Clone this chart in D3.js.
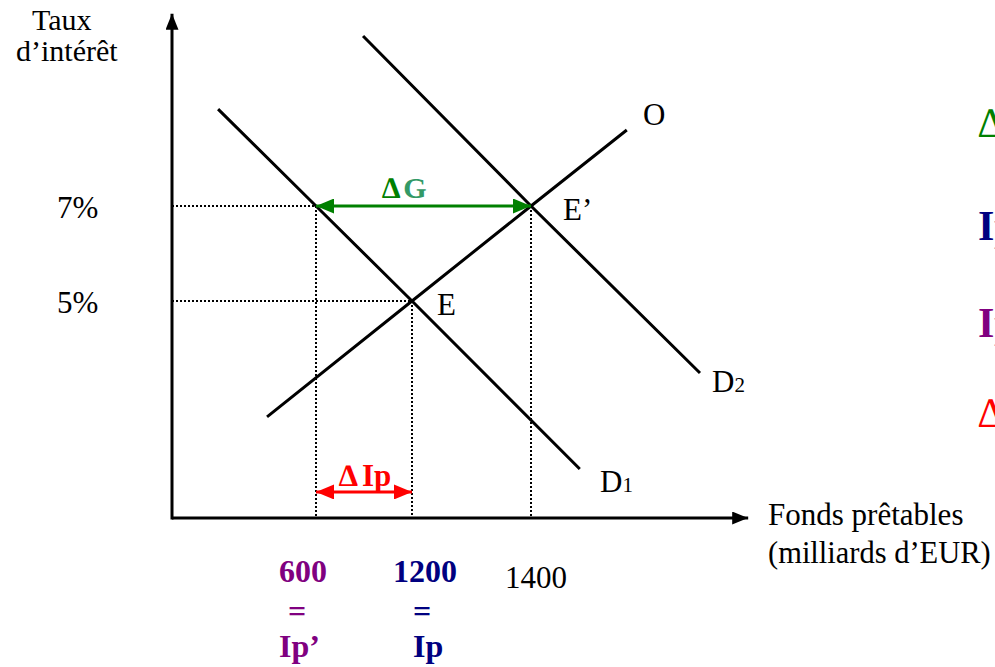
<!DOCTYPE html>
<html>
<head>
<meta charset="utf-8">
<script src="https://cdn.jsdelivr.net/npm/d3@7"></script>
<style>
	body { margin: 0; background: #fff; }
	svg { display: block; font-family: "Liberation Serif", "Times New Roman", serif; }
</style>
</head>
<body>
<div id="chart"></div>
<script>
// Loanable funds market (schematic values)
const rateTicks = [7, 5]
const rateLabels = ["7%", "5%"]
const axisX = [0, 1765] // x axis extent (milliards d'EUR, schematic)
const axisY = [0, 11.05] // y axis extent (%)

// curves: [quantity, rate]
const demand1 = [[192, 9.04], [600, 7], [1200, 5], [1482, 1.13]]
const demand2 = [[894, 10.58], [1400, 7], [1684, 3.34]]
const offer = [[396, 2.33], [1200, 5], [1400, 7], [1561, 8.6]]

// equilibria
const eqE = [1200, 5]
const eqE2 = [1400, 7]
const eqIp2 = [600, 7] // point on D1 at 7%

const deltaIpRate = 0.6 // height of the red arrow

const width = 995
const height = 667

const svg = d3
	.select("#chart")
	.append("svg")
	.attr("width", width)
	.attr("height", height)

// Schematic, non-proportional axis as in the original drawing
const x = d3.scaleLinear().domain([0, 600, 1200, 1400]).range([172, 316, 412, 531])
const y = d3.scaleLinear().domain([0, 5, 7]).range([518, 301, 206])

// Arrow markers
const defs = svg.append("defs")
const addMarker = (id, color, w, h) => {
	defs.append("marker")
		.attr("id", id)
		.attr("viewBox", `0 0 ${w} ${h}`)
		.attr("refX", w)
		.attr("refY", h / 2)
		.attr("markerWidth", w)
		.attr("markerHeight", h)
		.attr("markerUnits", "userSpaceOnUse")
		.attr("orient", "auto-start-reverse")
		.append("path")
		.attr("d", `M0,0 L${w},${h / 2} L0,${h} Z`)
		.attr("fill", color)
}
addMarker("arrow-black", "#000", 16, 13)
addMarker("arrow-green", "#008000", 18, 15)
addMarker("arrow-red", "#ff0000", 18, 15)

// Axes
svg.append("line")
	.attr("x1", x(axisX[0]))
	.attr("y1", y(axisY[0]))
	.attr("x2", x(axisX[1]))
	.attr("y2", y(axisY[0]))
	.attr("stroke", "#000")
	.attr("stroke-width", 3)
	.attr("marker-end", "url(#arrow-black)")

svg.append("line")
	.attr("x1", x(axisX[0]))
	.attr("y1", y(axisY[0]) + 1.5)
	.attr("x2", x(axisX[0]))
	.attr("y2", y(axisY[1]))
	.attr("stroke", "#000")
	.attr("stroke-width", 3)
	.attr("marker-end", "url(#arrow-black)")

// Dotted guides
const dotted = (x1, y1, x2, y2) =>
	svg.append("line")
		.attr("x1", x1).attr("y1", y1)
		.attr("x2", x2).attr("y2", y2)
		.attr("stroke", "#000")
		.attr("stroke-width", 2)
		.attr("stroke-dasharray", "2,2")

dotted(x(0), y(eqE2[1]), x(eqIp2[0]), y(eqE2[1]))
dotted(x(0), y(eqE[1]), x(eqE[0]), y(eqE[1]))
dotted(x(eqIp2[0]), y(eqIp2[1]), x(eqIp2[0]), y(0))
dotted(x(eqE[0]), y(eqE[1]), x(eqE[0]), y(0))
dotted(x(eqE2[0]), y(eqE2[1]), x(eqE2[0]), y(0))

// Curves
const line = d3
	.line()
	.x((d) => x(d[0]))
	.y((d) => y(d[1]))

;[demand1, demand2, offer].forEach((d) => {
	svg.append("path")
		.datum(d)
		.attr("fill", "none")
		.attr("stroke", "#000")
		.attr("stroke-width", 3)
		.attr("d", line)
})

// Delta G arrow
svg.append("line")
	.attr("x1", x(eqIp2[0]))
	.attr("x2", x(eqE2[0]))
	.attr("y1", y(7))
	.attr("y2", y(7))
	.attr("stroke", "#008000")
	.attr("stroke-width", 3)
	.attr("marker-start", "url(#arrow-green)")
	.attr("marker-end", "url(#arrow-green)")

const dg = svg.append("text")
	.attr("x", 382)
	.attr("y", 198)
	.style("font-size", "30px")
	.style("font-weight", "bold")
dg.append("tspan").attr("fill", "#008000").text("∆")
dg.append("tspan").attr("fill", "#339966").attr("dx", 3).text("G")

// Delta Ip arrow
svg.append("line")
	.attr("x1", x(eqIp2[0]))
	.attr("x2", x(eqE[0]))
	.attr("y1", y(deltaIpRate))
	.attr("y2", y(deltaIpRate))
	.attr("stroke", "#ff0000")
	.attr("stroke-width", 3)
	.attr("marker-start", "url(#arrow-red)")
	.attr("marker-end", "url(#arrow-red)")

const dip = svg.append("text")
	.attr("x", 339)
	.attr("y", 486)
	.attr("fill", "#ff0000")
	.style("font-size", "31px")
	.style("font-weight", "bold")
dip.append("tspan").text("∆")
dip.append("tspan").attr("dx", 4).text("Ip")

// Y tick labels
rateTicks.forEach((t, i) => {
	svg.append("text")
		.attr("x", 57)
		.attr("y", y(t) + 12)
		.style("font-size", "31px")
		.text(rateLabels[i])
})

// Axis titles
svg.append("text").attr("x", 32).attr("y", 30).style("font-size", "30px").text("Taux")
svg.append("text").attr("x", 16).attr("y", 61).style("font-size", "30px").text("d’intérêt")
svg.append("text").attr("x", 768).attr("y", 525).style("font-size", "31px").text("Fonds prêtables")
svg.append("text").attr("x", 768).attr("y", 563).style("font-size", "30.5px").text("(milliards d’EUR)")

// Curve / point labels
const label = (tx, ty, txt, sub) => {
	const t = svg.append("text").attr("x", tx).attr("y", ty).style("font-size", "31px").text(txt)
	if (sub) t.append("tspan").style("font-size", "21px").text(sub)
}
label(643, 125, "O")
label(563, 220, "E’")
label(437, 315, "E")
label(712, 392, "D", "2")
label(600, 492, "D", "1")

// X tick labels
const bold = (tx, ty, txt, color, anchor) =>
	svg.append("text")
		.attr("x", tx)
		.attr("y", ty)
		.attr("fill", color)
		.attr("text-anchor", anchor || "start")
		.style("font-size", "32px")
		.style("font-weight", "bold")
		.text(txt)

bold(x(600) - 37, 582, "600", "#800080")
bold(x(600) - 19, 622, "=", "#800080", "middle")
bold(x(600) - 37, 657, "Ip’", "#800080")

bold(x(1200) - 19, 582, "1200", "#000080")
bold(x(1200) + 10, 622, "=", "#000080", "middle")
bold(x(1200) + 1, 657, "Ip", "#000080")

svg.append("text")
	.attr("x", x(1400) - 26)
	.attr("y", 588)
	.style("font-size", "31px")
	.text("1400")

// Legend cut off at the right edge
const legendItems = [
	{ label: "∆G", color: "#008000", y: 137, weight: "normal" },
	{ label: "Ip", color: "#000080", y: 240, weight: "bold" },
	{ label: "Ip’", color: "#800080", y: 337, weight: "bold" },
	{ label: "∆Ip", color: "#ff0000", y: 427, weight: "normal" },
]
legendItems.forEach((d) => {
	svg.append("text")
		.attr("x", 978)
		.attr("y", d.y)
		.attr("fill", d.color)
		.style("font-size", "42px")
		.style("font-weight", d.weight)
		.text(d.label)
})
</script>
</body>
</html>
